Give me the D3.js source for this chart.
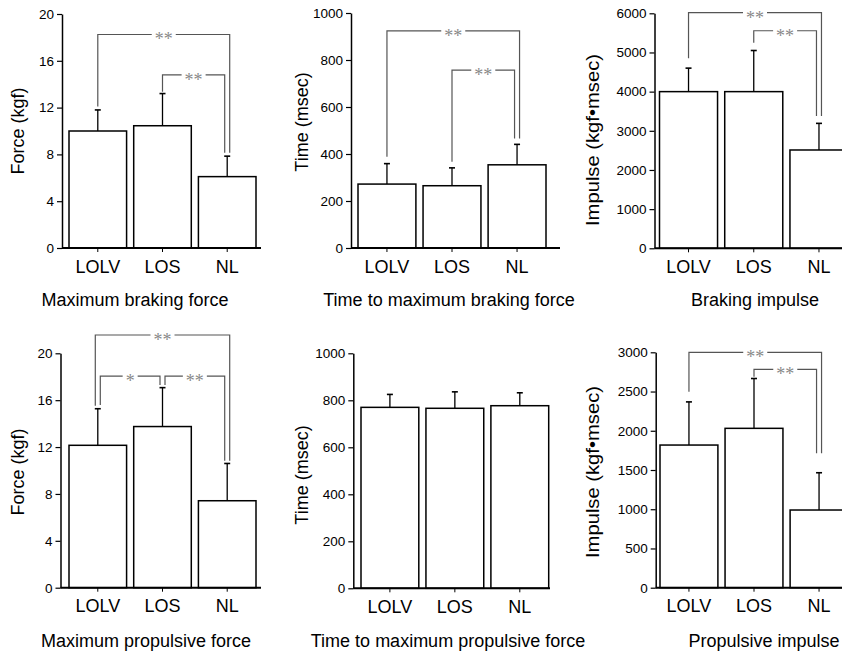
<!DOCTYPE html>
<html>
<head>
<meta charset="utf-8">
<script src="https://cdn.jsdelivr.net/npm/d3@7"></script>
<style>
  body { margin: 0; background: #fff; }
  svg { display: block; font-family: "Liberation Sans", Arial, sans-serif; }
</style>
</head>
<body>
<svg id="chart" width="842" height="654"></svg>
<script>
var groups = ["LOLV", "LOS", "NL"];

// means and SDs
var brakingForce = [10.0, 10.45, 6.1];
var brakingForceSD = [1.8, 2.75, 1.75];
var brakingTime = [272, 265, 354];
var brakingTimeSD = [87, 76, 87];
var brakingImpulse = [4000, 4000, 2510];
var brakingImpulseSD = [600, 1050, 680];
var propForce = [12.15, 13.75, 7.42];
var propForceSD = [3.12, 3.32, 3.18];
var propTime = [770, 766, 777];
var propTimeSD = [55, 70, 55];
var propImpulse = [1818, 2031, 990];
var propImpulseSD = [550, 635, 475];

var forceTicks = [0, 4, 8, 12, 16, 20];
var timeTicks = [0, 200, 400, 600, 800, 1000];
var brakingImpulseTicks = [0, 1000, 2000, 3000, 4000, 5000, 6000];
var propImpulseTicks = [0, 500, 1000, 1500, 2000, 2500, 3000];

// significance brackets: [from, to, label, bracket level, left leg end, right leg end]
var brakingForceSig = [[0, 2, "**", 18.25, 12.1, 8.15], [1, 2, "**", 14.8, 13.35, 8.15]];
var brakingTimeSig = [[0, 2, "**", 924, 388, 466], [1, 2, "**", 757, 367, 466]];
var brakingImpulseSig = [[0, 2, "**", 6015, 4851, 3378], [1, 2, "**", 5555, 5249, 3378]];
var propForceSig = [[0, 2, "**", 21.56, 15.53, 10.84], [0, 1, "*", 18.06, 15.59, 17.3], [1, 2, "**", 18.06, 17.3, 10.84]];
var propTimeSig = [];
var propImpulseSig = [[0, 2, "**", 3000, 2498, 1713], [1, 2, "**", 2783, 2689, 1713]];

var svg = d3.select("#chart");

var panels = [
  { means: brakingForce, sd: brakingForceSD, ticks: forceTicks, sig: brakingForceSig,
    ylabel: "Force (kgf)", title: "Maximum braking force",
    axisX: 62, bar0: 69, bar1: 256, axisEnd: 261, y0: 248, yTop: 14,
    labelX: 18, labelY: 131, titleX: 135, titleY: 306 },
  { means: brakingTime, sd: brakingTimeSD, ticks: timeTicks, sig: brakingTimeSig,
    ylabel: "Time (msec)", title: "Time to maximum braking force",
    axisX: 351, bar0: 358, bar1: 546, axisEnd: 560, y0: 248, yTop: 13,
    labelX: 302, labelY: 122, titleX: 449, titleY: 306 },
  { means: brakingImpulse, sd: brakingImpulseSD, ticks: brakingImpulseTicks, sig: brakingImpulseSig,
    ylabel: "Impulse (kgf\u2022msec)", title: "Braking impulse", labelLen: 172,
    axisX: 654.5, bar0: 659.5, bar1: 848, axisEnd: 845, y0: 248.3, yTop: 13.3,
    labelX: 593, labelY: 140, titleX: 755, titleY: 306 },
  { means: propForce, sd: propForceSD, ticks: forceTicks, sig: propForceSig,
    ylabel: "Force (kgf)", title: "Maximum propulsive force",
    axisX: 60.5, bar0: 69, bar1: 256, axisEnd: 261, y0: 587.7, yTop: 353.3,
    labelX: 18, labelY: 472, titleX: 146, titleY: 647 },
  { means: propTime, sd: propTimeSD, ticks: timeTicks, sig: propTimeSig,
    ylabel: "Time (msec)", title: "Time to maximum propulsive force",
    axisX: 353.3, bar0: 361, bar1: 548.7, axisEnd: 550, y0: 588.3, yTop: 353.3,
    labelX: 302, labelY: 475, titleX: 448, titleY: 647 },
  { means: propImpulse, sd: propImpulseSD, ticks: propImpulseTicks, sig: propImpulseSig,
    ylabel: "Impulse (kgf\u2022msec)", title: "Propulsive impulse", labelLen: 172,
    axisX: 655.7, bar0: 660, bar1: 848, axisEnd: 845, y0: 587.7, yTop: 352.3,
    labelX: 593, labelY: 472, titleX: 764, titleY: 647 }
];

panels.forEach(drawPanel);

function drawPanel(p) {
  var yMax = p.ticks[p.ticks.length - 1];
  var y = d3.scaleLinear().domain([0, yMax]).range([p.y0, p.yTop]);
  var x = d3.scaleBand().domain(groups).range([p.bar0, p.bar1]).paddingInner(0.11).paddingOuter(0);
  var cx = function(i) { return x(groups[i]) + x.bandwidth() / 2; };

  var g = svg.append("g");

  // bars
  g.selectAll("rect.bar")
    .data(p.means)
    .enter().append("rect")
    .attr("class", "bar")
    .attr("x", function(d, i) { return x(groups[i]); })
    .attr("y", function(d) { return y(d); })
    .attr("width", x.bandwidth())
    .attr("height", function(d) { return y(0) - y(d); })
    .attr("fill", "#fff")
    .attr("stroke", "#000")
    .attr("stroke-width", 1.5);

  // upper error bars
  var err = g.selectAll("g.err")
    .data(p.means)
    .enter().append("g")
    .attr("class", "err");
  err.append("line")
    .attr("x1", function(d, i) { return cx(i); })
    .attr("x2", function(d, i) { return cx(i); })
    .attr("y1", function(d) { return y(d); })
    .attr("y2", function(d, i) { return y(d + p.sd[i]); })
    .attr("stroke", "#000")
    .attr("stroke-width", 1.3);
  err.append("line")
    .attr("x1", function(d, i) { return cx(i) - 3; })
    .attr("x2", function(d, i) { return cx(i) + 3; })
    .attr("y1", function(d, i) { return y(d + p.sd[i]); })
    .attr("y2", function(d, i) { return y(d + p.sd[i]); })
    .attr("stroke", "#000")
    .attr("stroke-width", 1.6);

  // y axis
  var ya = g.append("g")
    .attr("transform", "translate(" + p.axisX + ",0)")
    .call(d3.axisLeft(y).tickValues(p.ticks).tickFormat(d3.format("d"))
      .tickSize(5).tickPadding(3).tickSizeOuter(0));
  ya.select(".domain").attr("stroke-width", 1.5);
  ya.selectAll(".tick line").attr("stroke-width", 1.2);
  ya.selectAll(".tick text")
    .attr("font-family", "Liberation Sans, Arial, sans-serif")
    .attr("font-size", "13.5px")
    .attr("fill", "#000");

  // x axis
  g.append("line")
    .attr("x1", p.axisX)
    .attr("x2", p.axisEnd)
    .attr("y1", p.y0)
    .attr("y2", p.y0)
    .attr("stroke", "#000")
    .attr("stroke-width", 2);
  var xa = g.append("g")
    .attr("transform", "translate(0," + p.y0 + ")")
    .call(d3.axisBottom(x).tickSize(4).tickPadding(8).tickSizeOuter(0));
  xa.select(".domain").remove();
  xa.selectAll(".tick text")
    .attr("font-family", "Liberation Sans, Arial, sans-serif")
    .attr("font-size", "18px")
    .attr("fill", "#000");

  // y label
  var yl = g.append("text")
    .attr("transform", "translate(" + p.labelX + "," + p.labelY + ") rotate(-90)")
    .attr("text-anchor", "middle")
    .attr("dominant-baseline", "central")
    .attr("font-size", "18px")
    .text(p.ylabel);
  if (p.labelLen) {
    yl.attr("textLength", p.labelLen).attr("lengthAdjust", "spacingAndGlyphs");
  }

  // panel caption
  g.append("text")
    .attr("x", p.titleX)
    .attr("y", p.titleY)
    .attr("text-anchor", "middle")
    .attr("font-size", "18px")
    .text(p.title);

  // significance brackets, legs that share a bar are spread a little
  var legs = {};
  p.sig.forEach(function(s, k) {
    [[s[0], "L"], [s[1], "R"]].forEach(function(e) {
      if (!legs[e[0]]) legs[e[0]] = [];
      legs[e[0]].push({ k: k, side: e[1], span: s[1] - s[0] });
    });
  });
  var legX = {};
  Object.keys(legs).forEach(function(c) {
    var list = legs[c].sort(function(a, b) {
      if (a.side != b.side) return a.side == "R" ? -1 : 1;
      return a.side == "R" ? a.span - b.span : b.span - a.span;
    });
    list.forEach(function(l, i) {
      legX[l.k + l.side] = cx(+c) + (i - (list.length - 1) / 2) * 5;
    });
  });

  p.sig.forEach(function(s, k) {
    var xa1 = legX[k + "L"], xb1 = legX[k + "R"];
    g.append("path")
      .attr("d", "M" + xa1 + "," + y(s[4]) + "V" + y(s[3]) + "H" + xb1 + "V" + y(s[5]))
      .attr("fill", "none")
      .attr("stroke", "#555")
      .attr("stroke-width", 1.2);
    var mid = (xa1 + xb1) / 2;
    var t = g.append("text")
      .attr("x", mid)
      .attr("y", y(s[3]) + 11)
      .attr("text-anchor", "middle")
      .attr("font-family", "Liberation Serif, Times New Roman, serif")
      .attr("font-size", "18px")
      .attr("fill", "#888")
      .text(s[2]);
    var w = t.node().getComputedTextLength();
    g.insert("rect", function() { return t.node(); })
      .attr("x", mid - w / 2 - 3)
      .attr("y", y(s[3]) - 3)
      .attr("width", w + 6)
      .attr("height", 6)
      .attr("fill", "#fff");
  });
}
</script>
</body>
</html>
